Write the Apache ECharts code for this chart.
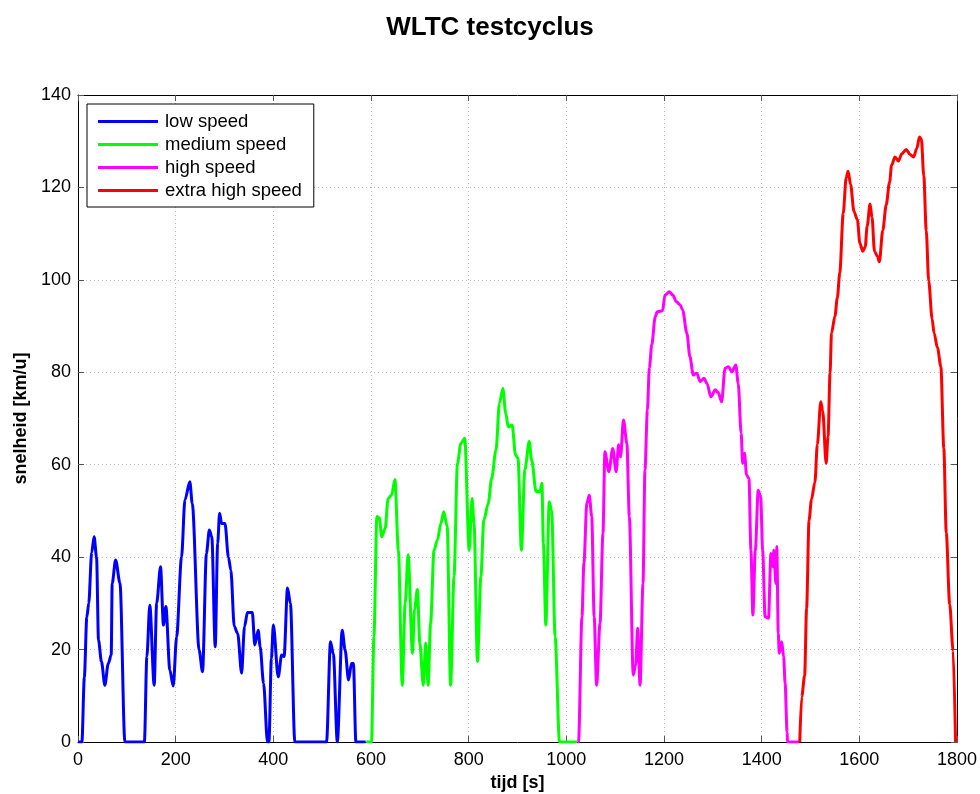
<!DOCTYPE html>
<html>
<head>
<meta charset="utf-8">
<script src="https://cdn.jsdelivr.net/npm/echarts@6/dist/echarts.min.js"></script>
<style>
html, body { margin: 0; padding: 0; background: #fff; }
#main { width: 980px; height: 794px; }
</style>
</head>
<body>
<div id="main"></div>
<script>
// WLTC fases: tijd [s] en snelheid [km/u]
var lowT = [0, 8, 13, 18, 22, 28, 33, 38, 42, 48, 55, 62, 68, 70, 77, 86, 96, 136, 141, 147, 156, 161, 169, 175, 180, 188, 195, 202, 212, 219, 229, 234, 248, 255, 263, 269, 274, 281, 286, 290, 294, 301, 308, 313, 320, 327, 335, 341, 347, 357, 362, 369, 373, 380, 388, 391, 396, 400, 410, 417, 422, 429, 435, 444, 509, 517, 523, 531, 541, 547, 554, 560, 564, 569, 589];
var lowV = [0, 0, 14, 27, 30, 41, 44.4, 40, 22, 17.4, 12.3, 17, 18.8, 34.3, 39.4, 34.4, 0, 0, 18.5, 29.6, 12.3, 30, 37.9, 25.3, 29.3, 15.6, 12.1, 22.8, 40, 52.4, 56.3, 51.6, 19.9, 15.2, 40.8, 45.9, 44.4, 20.6, 43, 49.5, 47.3, 47.3, 40, 37.2, 25, 23.5, 14.9, 25, 28, 28, 21, 24.2, 20.6, 12.7, 0, 0, 18, 25.3, 14.1, 18.8, 18.5, 33.3, 30, 0, 0, 21.7, 19, 0, 24.2, 19.9, 13.4, 17, 17, 0, 0];

var medT = [590, 601, 606, 612, 617, 622, 629, 635, 642, 649, 656, 664, 670, 676, 685, 689, 695, 700, 707, 712, 717, 722, 729, 736, 743, 749, 756, 763, 770, 777, 784, 792, 801, 807, 811, 818, 825, 831, 840, 847, 856, 863, 870, 876, 881, 889, 896, 901, 908, 915, 924, 929, 938, 946, 950, 953, 958, 965, 970, 977, 986, 1022];
var medV = [0, 0, 22.8, 48.8, 48.5, 44.4, 46.2, 52.7, 53.4, 56.8, 41.5, 12.3, 30, 40.5, 19.2, 28.6, 33, 21.4, 12.3, 21.4, 12.3, 25.7, 41.5, 43.7, 47.3, 49.8, 46.6, 12.3, 35.8, 60.3, 64.6, 65.7, 41.5, 52.7, 47.3, 17.4, 35.8, 48, 51.6, 57, 63.2, 73.3, 76.5, 71.1, 68.2, 68.6, 62.1, 61.4, 41.5, 58.9, 65, 61, 54.2, 54.2, 56, 43, 25.3, 52, 50, 22.8, 0, 0];

var highT = [1023, 1025, 1032, 1036, 1042, 1047, 1052, 1057, 1062, 1069, 1075, 1079, 1087, 1095, 1102, 1107, 1111, 1117, 1124, 1129, 1137, 1142, 1146, 1151, 1157, 1161, 1166, 1170, 1175, 1182, 1186, 1197, 1202, 1211, 1218, 1225, 1233, 1238, 1247, 1253, 1260, 1267, 1274, 1282, 1288, 1296, 1305, 1311, 1318, 1325, 1332, 1339, 1347, 1352, 1358, 1361, 1365, 1369, 1374, 1378, 1382, 1387, 1393, 1398, 1402, 1407, 1414, 1419, 1423, 1425, 1429, 1431, 1434, 1436, 1441, 1445, 1448, 1452, 1453, 1477];
var highV = [0, 0, 27.1, 38.7, 51.6, 53.4, 48.8, 27.1, 12.3, 25.7, 45.1, 62.8, 58.5, 63.5, 58.5, 64.3, 61.7, 69.7, 64.6, 48.8, 14.5, 16.7, 24.6, 12.3, 34.3, 58.9, 71.8, 81, 86, 92, 93.1, 93.3, 96.7, 97.4, 96.7, 95.3, 94.6, 93.5, 88.4, 83.4, 79.4, 79.8, 78, 78.7, 77.6, 74.7, 76.2, 75.6, 73.6, 80.9, 81.2, 80.1, 81.6, 77.6, 66.8, 60.3, 62.5, 57.8, 57, 41.5, 27.5, 41.5, 54.5, 53, 41.5, 27.1, 26.8, 40.8, 37.9, 41.5, 34.3, 42.3, 23.5, 19.2, 21.7, 18.5, 12.7, 2.2, 0, 0];

var xhighT = [1478, 1482, 1488, 1492, 1497, 1502, 1509, 1514, 1521, 1525, 1532, 1536, 1540, 1543, 1550, 1555, 1560, 1567, 1573, 1577, 1582, 1589, 1596, 1601, 1607, 1612, 1616, 1622, 1626, 1631, 1637, 1641, 1648, 1655, 1662, 1666, 1673, 1680, 1687, 1696, 1704, 1711, 1718, 1723, 1727, 1732, 1737, 1742, 1749, 1753, 1760, 1767, 1773, 1778, 1785, 1792, 1797];
var xhighV = [0, 9.8, 14.4, 28.9, 48, 52.5, 56.2, 64.4, 73.6, 71.6, 60.3, 66.2, 79.8, 88.5, 92.1, 96.2, 101.6, 114.4, 122.1, 123.5, 120.7, 114.8, 113, 108, 106.2, 107.1, 111.6, 116.4, 113.5, 106.2, 105.1, 103.9, 110.7, 116.2, 121.2, 124.8, 126.6, 125.7, 127.3, 128.2, 127.1, 126.6, 128.5, 130.9, 130.5, 122.5, 110.7, 99.8, 91.6, 88.5, 85.3, 81.2, 63.5, 45.3, 29.8, 19.8, 0];

var phaseNames = ['low speed', 'medium speed', 'high speed', 'extra high speed'];
var phaseColors = ['#0000ff', '#00ff00', '#ff00ff', '#ff0000'];
var xTicks = [0, 1800, 200];
var yTicks = [0, 140, 20];

function pairs(t, v) {
    var out = [];
    for (var i = 0; i < t.length; i++) {
        out.push([t[i], v[i]]);
    }
    return out;
}

var FONT = '"Liberation Sans", Arial, sans-serif';
var phases = [pairs(lowT, lowV), pairs(medT, medV), pairs(highT, highV), pairs(xhighT, xhighV)];

var series = [];
for (var i = 0; i < phases.length; i++) {
    series.push({
        name: phaseNames[i],
        type: 'line',
        data: phases[i],
        showSymbol: false,
        smooth: 0.3,
        smoothMonotone: 'x',
        color: phaseColors[i],
        lineStyle: { width: 3, color: phaseColors[i] },
        silent: true,
        animation: false
    });
}

function axisBase(pos, ticks, labels) {
    return {
        type: 'value',
        position: pos,
        min: ticks[0],
        max: ticks[1],
        interval: ticks[2],
        axisLine: { show: true, onZero: false, lineStyle: { color: '#000', width: 1 } },
        axisTick: { show: true, inside: true, length: 6, lineStyle: { color: '#555' } },
        axisLabel: {
            show: labels, color: '#000', fontSize: 18, fontFamily: FONT,
            formatter: function (v) { return String(v); }
        },
        splitLine: { show: false }
    };
}

var xBottom = axisBase('bottom', xTicks, true);
xBottom.name = 'tijd [s]';
xBottom.nameLocation = 'middle';
xBottom.nameGap = 32;
xBottom.nameTextStyle = { fontSize: 18, fontWeight: 'bold', color: '#000', fontFamily: FONT };
xBottom.axisLabel.margin = 9;
xBottom.splitLine = { show: true, lineStyle: { color: '#bdbdbd', type: [1, 3], width: 1 } };

var yLeft = axisBase('left', yTicks, true);
yLeft.name = 'snelheid [km/u]';
yLeft.nameLocation = 'middle';
yLeft.nameGap = 45;
yLeft.nameTextStyle = { fontSize: 18, fontWeight: 'bold', color: '#000', fontFamily: FONT };
yLeft.axisLabel.margin = 7;
yLeft.splitLine = { show: true, lineStyle: { color: '#bdbdbd', type: [1, 3], width: 1 } };

var chart = echarts.init(document.getElementById('main'), null, { renderer: 'canvas' });
chart.setOption({
    backgroundColor: '#fff',
    animation: false,
    title: {
        text: 'WLTC testcyclus',
        left: 'center',
        top: 10,
        textStyle: { fontSize: 26, fontWeight: 'bold', color: '#000', fontFamily: FONT }
    },
    legend: {
        data: phaseNames,
        orient: 'vertical',
        left: 87,
        top: 104,
        padding: [8, 12, 7, 11],
        itemGap: 4,
        itemWidth: 60,
        itemHeight: 3,
        icon: 'rect',
        backgroundColor: '#fff',
        borderColor: '#000',
        borderWidth: 1,
        borderRadius: 0,
        textStyle: { fontSize: 18.5, color: '#000', fontFamily: FONT, lineHeight: 18, padding: [0, 0, 0, 2] }
    },
    grid: { left: 78, right: 23, top: 95, bottom: 52, containLabel: false, outerBoundsMode: 'none' },
    xAxis: [xBottom, axisBase('top', xTicks, false)],
    yAxis: [yLeft, axisBase('right', yTicks, false)],
    series: series
});
</script>
</body>
</html>
